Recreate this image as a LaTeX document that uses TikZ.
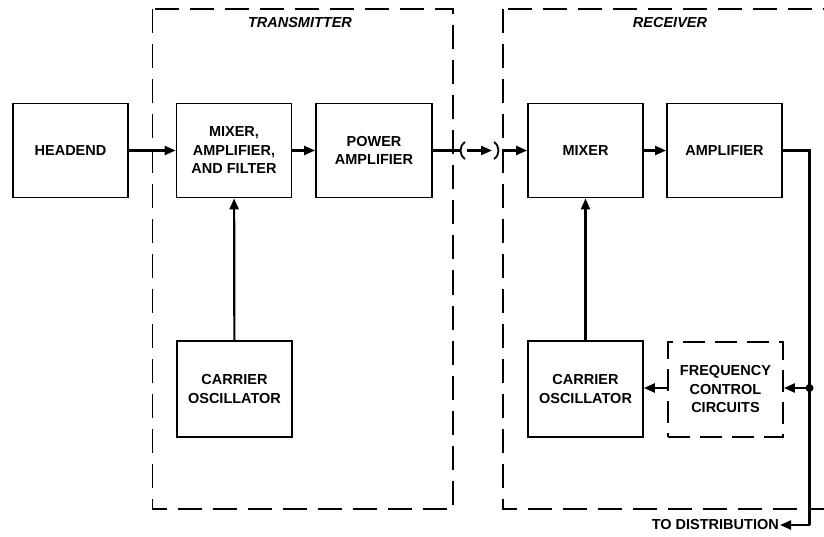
\documentclass[tikz,border=0pt]{standalone}
\usepackage{fontspec}
\setmainfont{Liberation Sans}
\usetikzlibrary{arrows.meta, positioning}

\tikzset{
    blk/.style={draw, line width=1.8pt, minimum width=115pt, minimum height=94pt,
        align=center, font=\bfseries\fontsize{14.5}{18.5}\selectfont, inner sep=2pt},
    dblk/.style={blk, dash pattern=on 22pt off 10pt},
    frame/.style={line width=1.5pt, dash pattern=on 24pt off 11pt},
    title/.style={font=\bfseries\itshape\fontsize{14.5}{16}\selectfont},
    link/.style={line width=2.2pt},
    arr/.style={link, -{Triangle[length=11pt, width=9pt]}}
}

\begin{document}
\begin{tikzpicture}[x=1pt, y=-1pt]
    \clip (0,0) rectangle (824,537);

    % Transmitter and receiver frames
    \draw[frame] (152.5,9) rectangle (453,509);
    \draw[frame] (503,9) rectangle (840,509);
    \node[title] (txtitle) at (300,23) {TRANSMITTER};
    \node[title] (rxtitle) at (670,23) {RECEIVER};

    % Upper row
    \node[blk] (headend) at (70.5,150.5) {HEADEND};
    \node[blk] (txmix) at (234,150.5) {MIXER,\\AMPLIFIER,\\AND FILTER};
    \node[blk, minimum width=116pt] (pamp) at (374,150.5) {POWER\\AMPLIFIER};
    \node[blk] (rxmix) at (585.5,150.5) {MIXER};
    \node[blk] (ramp) at (724.5,150.5) {AMPLIFIER};

    % Lower row
    \node[blk, minimum height=96pt] (txosc) at (234.5,389) {CARRIER\\OSCILLATOR};
    \node[blk, minimum height=96pt] (rxosc) at (585.5,389) {CARRIER\\OSCILLATOR};
    \node[dblk, minimum height=95pt] (freq) at (725.5,389.5) {FREQUENCY\\CONTROL\\CIRCUITS};

    % Signal path
    \draw[arr] (headend) -- (txmix);
    \draw[arr] (txmix) -- (pamp);
    \coordinate (gapl) at (461,150.5);
    \coordinate (gapr) at (497,150.5);
    \coordinate (rxin) at (503,150.5);
    \draw[link] (pamp.east) -- (gapl);
    \draw[line width=1.8pt] (465,142) .. controls (459,146) and (459,155) .. (465,159);
    \draw[line width=1.8pt] (494,142) .. controls (500,146) and (500,155) .. (494,159);
    \draw[arr] (467,150.5) -- (492,150.5);
    \draw[arr] (rxin) -- (rxmix);
    \draw[arr] (rxmix) -- (ramp);

    % Carrier feeds
    \draw[arr] (txosc) -- (txmix);
    \draw[arr] (rxosc) -- (rxmix);

    % Output and frequency control loop
    \coordinate (corner) at (809.5,150.5);
    \coordinate (tap) at (809.5,388);
    \coordinate (bottom) at (809.5,525);
    \node[font=\bfseries\fontsize{14.5}{16}\selectfont, anchor=east, inner sep=1pt] (dist) at (780,525) {TO DISTRIBUTION};
    \draw[link] (ramp.east) -- (corner) -- (bottom);
    \draw[arr] (bottom) -- (dist.east);
    \fill (tap) circle (4pt);
    \draw[arr] (tap) -- (freq.east |- tap);
    \draw[arr] (freq.west |- tap) -- (rxosc.east |- tap);
\end{tikzpicture}
\end{document}
